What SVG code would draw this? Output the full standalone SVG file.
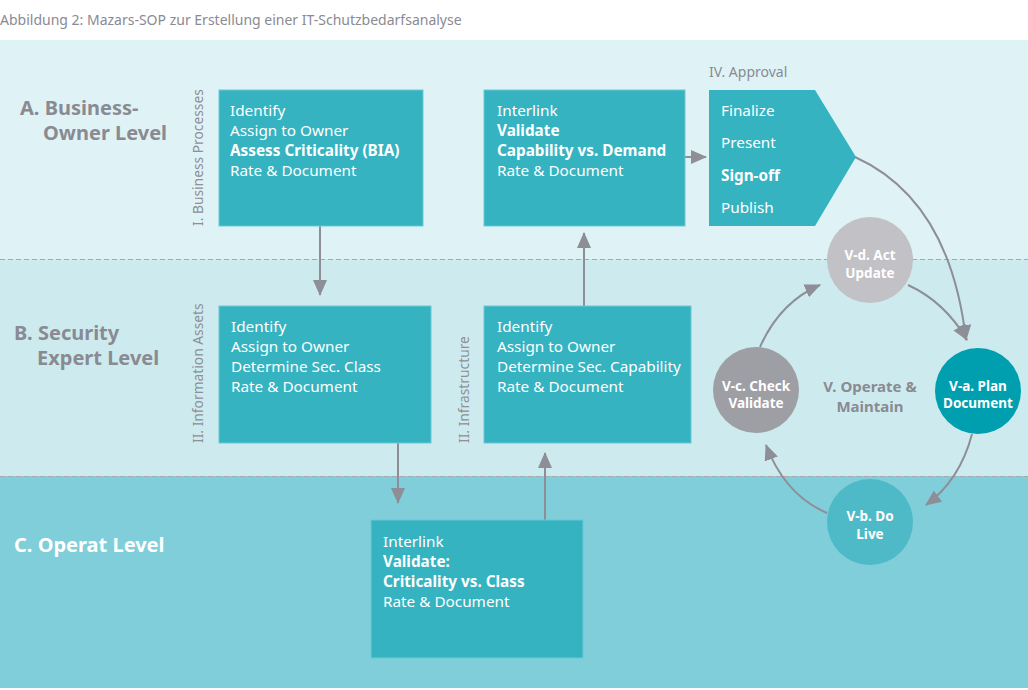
<svg xmlns="http://www.w3.org/2000/svg" width="1028" height="690" viewBox="0 0 1028 690">
<defs>
<marker id="ah2" viewBox="0 0 16 14" refX="15" refY="7" markerWidth="16" markerHeight="14" markerUnits="userSpaceOnUse" orient="auto">
<path d="M0,0 L16,7 L0,14 z" fill="#8e8e96"/>
</marker>
<style>
text{font-family:"Noto Sans","Liberation Sans",sans-serif}
.box{fill:#35b3c1;stroke:#6cc9d3;stroke-width:1}
.bt{font-size:15.3px;fill:#ffffff}
.b{font-weight:bold}
.lvl{font-size:20px;font-weight:bold;fill:#8a8a92}
.vl{font-size:13.8px;fill:#8f8f96}
.ct{font-size:13.5px;font-weight:bold;fill:#ffffff;text-anchor:middle}
.con{fill:none;stroke:#8e8e96;stroke-width:2}
.dash{stroke:#a8a8ae;stroke-width:1;stroke-dasharray:5,3}
</style>
</defs>
<rect width="1028" height="690" fill="#ffffff"/>
<text x="0" y="25" style="font-size:14px;fill:#8a8a92">Abbildung 2: Mazars-SOP zur Erstellung einer IT-Schutzbedarfsanalyse</text>
<g id="bands">
<rect x="0" y="40" width="1028" height="219" fill="#dff3f6"/>
<rect x="0" y="259" width="1028" height="217" fill="#cdebef"/>
<rect x="0" y="476" width="1028" height="212" fill="#7fced9"/>
<line class="dash" x1="0" y1="259.5" x2="1028" y2="259.5"/>
<line class="dash" x1="0" y1="476.5" x2="1028" y2="476.5"/>
</g>
<g id="levels">
<text class="lvl" x="20" y="115">A. Business-</text>
<text class="lvl" x="43" y="140">Owner Level</text>
<text class="lvl" x="14" y="340">B. Security</text>
<text class="lvl" x="37" y="365">Expert Level</text>
<text class="lvl" x="14" y="552" style="fill:#ffffff">C. Operat Level</text>
</g>
<g id="connectors">
<line class="con" x1="320" y1="226" x2="320" y2="295" marker-end="url(#ah2)"/>
<line class="con" x1="398" y1="443" x2="398" y2="503" marker-end="url(#ah2)"/>
<line class="con" x1="545" y1="520" x2="545" y2="453" marker-end="url(#ah2)"/>
<line class="con" x1="584" y1="306" x2="584" y2="233" marker-end="url(#ah2)"/>
<line class="con" x1="685" y1="157" x2="706" y2="157" marker-end="url(#ah2)"/>
<path class="con" d="M855,157 Q950,200 966,340" marker-end="url(#ah2)"/>
<path class="con" d="M908,285 Q945,302 967,340" marker-end="url(#ah2)"/>
<path class="con" d="M972,434 Q960,480 926,505" marker-end="url(#ah2)"/>
<path class="con" d="M827,513 Q785,495 766,445" marker-end="url(#ah2)"/>
<path class="con" d="M760,347 Q780,302 820,285" marker-end="url(#ah2)"/>
</g>
<g id="n-business">
<text class="vl" transform="translate(203,226) rotate(-90)">I. Business Processes</text>
<rect class="box" x="219" y="90" width="204" height="136"/>
<text class="bt" x="230" y="116">Identify</text>
<text class="bt" x="230" y="136">Assign to Owner</text>
<text class="bt b" x="230" y="156">Assess Criticality (BIA)</text>
<text class="bt" x="230" y="176">Rate &amp; Document</text>
</g>
<g id="n-validate-cap">
<rect class="box" x="484" y="90" width="201" height="136"/>
<text class="bt" x="497" y="116">Interlink</text>
<text class="bt b" x="497" y="136">Validate</text>
<text class="bt b" x="497" y="156">Capability vs. Demand</text>
<text class="bt" x="497" y="176">Rate &amp; Document</text>
</g>
<g id="n-approval">
<text x="709" y="77" style="font-size:14px;fill:#8a8a92">IV. Approval</text>
<polygon points="709,90 815,90 856,157 815,226 709,226" fill="#35b3c1"/>
<text class="bt" x="721" y="116">Finalize</text>
<text class="bt" x="721" y="148">Present</text>
<text class="bt b" x="721" y="181">Sign-off</text>
<text class="bt" x="721" y="213">Publish</text>
</g>
<g id="n-info-assets">
<text class="vl" transform="translate(203,443) rotate(-90)">II. Information Assets</text>
<rect class="box" x="219" y="306" width="212" height="137"/>
<text class="bt" x="231" y="332">Identify</text>
<text class="bt" x="231" y="352">Assign to Owner</text>
<text class="bt" x="231" y="372">Determine Sec. Class</text>
<text class="bt" x="231" y="392">Rate &amp; Document</text>
</g>
<g id="n-infrastructure">
<text class="vl" transform="translate(469,443) rotate(-90)">II. Infrastructure</text>
<rect class="box" x="484" y="306" width="207" height="137"/>
<text class="bt" x="497" y="332">Identify</text>
<text class="bt" x="497" y="352">Assign to Owner</text>
<text class="bt" x="497" y="372">Determine Sec. Capability</text>
<text class="bt" x="497" y="392">Rate &amp; Document</text>
</g>
<g id="n-operat">
<rect class="box" x="371" y="520" width="212" height="138"/>
<text class="bt" x="383" y="547">Interlink</text>
<text class="bt b" x="383" y="567">Validate:</text>
<text class="bt b" x="383" y="587">Criticality vs. Class</text>
<text class="bt" x="383" y="607">Rate &amp; Document</text>
</g>
<g id="n-cycle-label">
<text x="870" y="392" style="font-size:15px;font-weight:bold;fill:#8a8a92;text-anchor:middle">V. Operate &amp;</text>
<text x="870" y="412" style="font-size:15px;font-weight:bold;fill:#8a8a92;text-anchor:middle">Maintain</text>
</g>
<g id="n-vd">
<circle cx="870" cy="260" r="43" fill="#c2c1c6"/>
<text class="ct" x="870" y="260">V-d. Act</text>
<text class="ct" x="870" y="278">Update</text>
</g>
<g id="n-va">
<circle cx="978" cy="391" r="43" fill="#009fb0"/>
<text class="ct" x="978" y="391">V-a. Plan</text>
<text class="ct" x="978" y="408">Document</text>
</g>
<g id="n-vc">
<circle cx="756" cy="390" r="43" fill="#9e9ea5"/>
<text class="ct" x="756" y="391">V-c. Check</text>
<text class="ct" x="756" y="408">Validate</text>
</g>
<g id="n-vb">
<circle cx="870" cy="522" r="43" fill="#4fbac7"/>
<text class="ct" x="870" y="521">V-b. Do</text>
<text class="ct" x="870" y="539">Live</text>
</g>
</svg>
